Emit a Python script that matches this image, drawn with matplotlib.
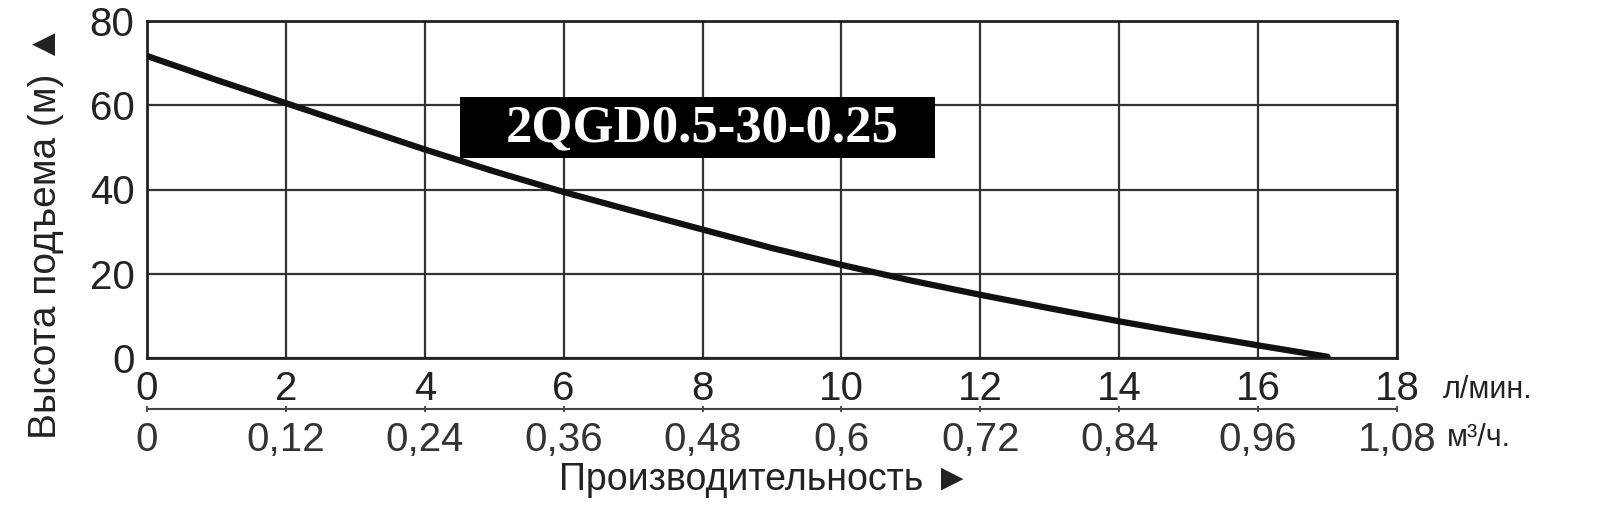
import matplotlib
matplotlib.use('Agg')
import matplotlib.pyplot as plt
from matplotlib.patches import Rectangle

# flow, l/min
flow_lpm = [0, 1, 2, 3, 4, 5, 6, 7, 8, 9, 10, 11, 12, 13, 14, 15, 16, 17]
# head, m
head_m = [71.7, 66.0, 60.5, 55.0, 49.5, 44.3, 39.4, 34.9, 30.5, 26.1, 22.1, 18.4, 15.0, 11.8, 8.7, 5.8, 3.0, 0.3]

x_ticks = [0, 2, 4, 6, 8, 10, 12, 14, 16, 18]
y_ticks = [0, 20, 40, 60, 80]
m3h_ticks = [0, 0.12, 0.24, 0.36, 0.48, 0.6, 0.72, 0.84, 0.96, 1.08]
m3h_labels = ['0', '0,12', '0,24', '0,36', '0,48', '0,6', '0,72', '0,84', '0,96', '1,08']
model_name = '2QGD0.5-30-0.25'

plt.rcParams['font.family'] = ['Liberation Sans', 'DejaVu Sans']

fig = plt.figure(figsize=(16, 5.07), dpi=100)
ax = fig.add_axes([147 / 1600, 1 - 358 / 507, 1250 / 1600, 337 / 507])

ax.plot(flow_lpm, head_m, color='#111111', lw=4.5, solid_capstyle='round', zorder=3)

ax.set_xlim(0, 18)
ax.set_ylim(0, 80)
ax.set_xticks(x_ticks)
ax.set_yticks(y_ticks)
ax.grid(True, color='#333333', lw=1.6)
for s in ax.spines.values():
    s.set_color('#222222')
    s.set_linewidth(2)
ax.tick_params(axis='both', length=0, labelsize=29, colors='#222222')
ax.tick_params(axis='x', pad=9)
ax.tick_params(axis='y', pad=9)

# second flow scale, m3/h
sec = ax.secondary_xaxis(-0.151, functions=(lambda q: q * 0.06, lambda q: q / 0.06))
sec.set_xticks(m3h_ticks, m3h_labels)
sec.spines['bottom'].set_color('#444444')
sec.spines['bottom'].set_linewidth(1.5)
sec.tick_params(axis='x', direction='inout', length=5, width=1.2, colors='#333333',
                labelsize=29, pad=6)

# model label box
ax.add_patch(Rectangle((4.5, 47.4), 6.85, 14.6, facecolor='black', edgecolor='none', zorder=4))
ax.text(8.0, 54.5, model_name, color='white', fontsize=38, fontweight='bold',
        family='Liberation Serif', ha='center', va='center', zorder=5)

fig.text(1443 / 1600, 1 - 390 / 507, 'л/мин.', fontsize=22, color='#222222', va='center')
fig.text(1447 / 1600, 1 - 438 / 507, 'м³/ч.', fontsize=22, color='#222222', va='center')

fig.text(46 / 1600, 1 - 232 / 507, 'Высота подъема (м) ▲', rotation=90, fontsize=28,
         color='#222222', ha='center', va='center')
fig.text(765 / 1600, 1 - 480 / 507, 'Производительность ►', fontsize=27,
         color='#222222', ha='center', va='center')

fig.savefig('out.png', dpi=100, facecolor='white')
